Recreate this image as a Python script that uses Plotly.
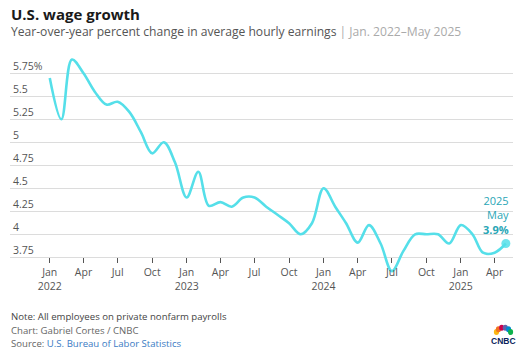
import plotly.graph_objects as go
import math

# ---------------- data ----------------
months = ["2022-01-01", "2022-02-01", "2022-03-01", "2022-04-01", "2022-05-01", "2022-06-01",
          "2022-07-01", "2022-08-01", "2022-09-01", "2022-10-01", "2022-11-01", "2022-12-01",
          "2023-01-01", "2023-02-01", "2023-03-01", "2023-04-01", "2023-05-01", "2023-06-01",
          "2023-07-01", "2023-08-01", "2023-09-01", "2023-10-01", "2023-11-01", "2023-12-01",
          "2024-01-01", "2024-02-01", "2024-03-01", "2024-04-01", "2024-05-01", "2024-06-01",
          "2024-07-01", "2024-08-01", "2024-09-01", "2024-10-01", "2024-11-01", "2024-12-01",
          "2025-01-01", "2025-02-01", "2025-03-01", "2025-04-01", "2025-05-01"]
wage_growth = [5.7, 5.25, 5.9, 5.75, 5.55, 5.41, 5.44, 5.33, 5.11, 4.88, 5.0, 4.78,
               4.4, 4.68, 4.31, 4.35, 4.3, 4.4, 4.4, 4.3, 4.21, 4.12, 4.0, 4.12,
               4.5, 4.3, 4.12, 3.91, 4.1, 3.9, 3.6, 3.82, 4.0, 4.0, 4.0, 3.9,
               4.1, 4.0, 3.8, 3.8, 3.9]

y_tickvals = [3.75, 4.0, 4.25, 4.5, 4.75, 5.0, 5.25, 5.5, 5.75]
y_ticktext = ["3.75", "4", "4.25", "4.5", "4.75", "5", "5.25", "5.5", "5.75%"]

x_tickvals = ["2022-01-01", "2022-04-01", "2022-07-01", "2022-10-01",
              "2023-01-01", "2023-04-01", "2023-07-01", "2023-10-01",
              "2024-01-01", "2024-04-01", "2024-07-01", "2024-10-01",
              "2025-01-01", "2025-04-01"]
x_ticktext = ["Jan<br>2022", "Apr", "Jul", "Oct",
              "Jan<br>2023", "Apr", "Jul", "Oct",
              "Jan<br>2024", "Apr", "Jul", "Oct",
              "Jan<br>2025", "Apr"]

last_label = "2025<br>May<br><b>3.9%</b>"

# ---------------- layout helpers ----------------
W, H = 524, 353
L, R, T, B = 10, 11, 50, 78
PW = W - L - R
PH = H - T - B
def px(x):
    return (x - L) / PW
def py(y):
    return (H - B - y) / PH

FONT = "Open Sans"
LINE = "#55dfe9"
TEAL = "#2aa6b6"

fig = go.Figure()
fig.add_trace(go.Scatter(
    x=months, y=wage_growth, mode="lines",
    line=dict(color=LINE, width=2.6, shape="spline", smoothing=1.0),
    hoverinfo="skip", showlegend=False))
fig.add_trace(go.Scatter(
    x=[months[-1]], y=[wage_growth[-1]], mode="markers",
    marker=dict(color=LINE, size=9, opacity=0.85),
    hoverinfo="skip", showlegend=False, cliponaxis=False))

y_px_375 = 257.3
ppu = 92.0
y_lo = 3.75 - ((H - B) - y_px_375) / ppu
y_hi = 5.75 + (73.3 - T) / ppu

fig.update_layout(
    width=W, height=H,
    margin=dict(l=L, r=R, t=T, b=B),
    paper_bgcolor="white", plot_bgcolor="white",
    font=dict(family=FONT, color="#555"),
    xaxis=dict(
        type="date",
        range=["2021-09-17", "2025-05-20"],
        tickvals=x_tickvals, ticktext=x_ticktext,
        ticks="outside", ticklen=5, tickwidth=1, tickcolor="#555",
        tickfont=dict(size=10.5, color="#555", family=FONT),
        showgrid=False, zeroline=False, showline=False,
        anchor="free", position=py(y_px_375),
    ),
    yaxis=dict(
        range=[y_lo, y_hi],
        tickvals=y_tickvals, ticktext=y_ticktext,
        ticklabelposition="inside top", ticklabelstandoff=0,
        tickfont=dict(size=10.5, color="#555", family=FONT),
        ticks="", showgrid=True, gridcolor="#dcdcdc", gridwidth=1,
        zeroline=False, showline=False,
    ),
)

ann = []
ann.append(dict(x=px(9), y=py(14), xref="paper", yref="paper", xanchor="left", yanchor="middle",
                text="<b>U.S. wage growth</b>", showarrow=False,
                font=dict(size=15, color="#1a1a1a", family=FONT)))
ann.append(dict(x=px(9), y=py(32), xref="paper", yref="paper", xanchor="left", yanchor="middle",
                text="Year-over-year percent change in average hourly earnings <span style='color:#aaaaaa'>| Jan. 2022–May 2025</span>",
                showarrow=False, font=dict(size=12.1, color="#555", family=FONT)))
ann.append(dict(x=px(511), y=py(215), xref="paper", yref="paper", xanchor="right", yanchor="middle",
                text=last_label, showarrow=False, align="right",
                font=dict(size=11, color=TEAL, family=FONT)))
ann.append(dict(x=px(9), y=py(316), xref="paper", yref="paper", xanchor="left", yanchor="middle",
                text="Note: All employees on private nonfarm payrolls", showarrow=False,
                font=dict(size=9.6, color="#444", family=FONT)))
ann.append(dict(x=px(9), y=py(330), xref="paper", yref="paper", xanchor="left", yanchor="middle",
                text="Chart: Gabriel Cortes / CNBC", showarrow=False,
                font=dict(size=9.6, color="#666", family=FONT)))
ann.append(dict(x=px(9), y=py(343.5), xref="paper", yref="paper", xanchor="left", yanchor="middle",
                text="Source: <span style='color:#3b7bc4'>U.S. Bureau of Labor Statistics</span>", showarrow=False,
                font=dict(size=9.6, color="#666", family=FONT)))
ann.append(dict(x=px(503.5), y=py(341), xref="paper", yref="paper", xanchor="center", yanchor="middle",
                text="<b>CNBC</b>", showarrow=False,
                font=dict(size=8.5, color="#0b1f5c", family="Liberation Sans")))
fig.update_layout(annotations=ann)

# CNBC peacock feathers (small logo)
colors = ["#fcb711", "#f37021", "#cc004c", "#6460aa", "#0089d0", "#0db14b"]
cx, cy = 503.5, 334.5
shapes = []
for i, c in enumerate(colors):
    ang = math.radians(160 - i * 28)
    ex = cx + 7.5 * math.cos(ang)
    ey = cy - 7.0 * math.sin(ang)
    shapes.append(dict(type="circle", xref="paper", yref="paper",
                       x0=px(ex - 2.6), x1=px(ex + 2.6), y0=py(ey + 3.0), y1=py(ey - 3.0),
                       fillcolor=c, line=dict(width=0)))
fig.update_layout(shapes=shapes)

fig.write_html("out.html")
